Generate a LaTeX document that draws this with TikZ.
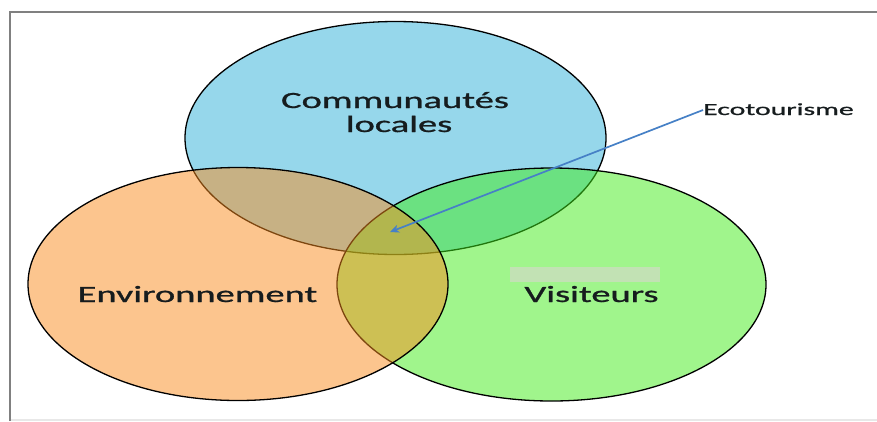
\documentclass[tikz,border=0pt]{standalone}
\usepackage{fontspec}
\usepackage{graphicx}
\setmainfont{Carlito}
\newfontfamily\labelfont{Carlito}[UprightFeatures={FakeBold=0.8}]
\usetikzlibrary{shapes.geometric,arrows.meta}

\definecolor{basblue}{RGB}{45,175,215}
\definecolor{basgreen}{RGB}{65,235,25}
\definecolor{basorange}{RGB}{250,140,30}
\definecolor{arrowblue}{RGB}{70,128,198}
\definecolor{framegray}{RGB}{128,128,128}
\definecolor{smudge}{RGB}{194,226,180}
\definecolor{inktext}{RGB}{22,28,30}

\tikzset{
  setbox/.style={ellipse, draw=black, line width=1.3pt, fill opacity=0.5,
    minimum width=#1, minimum height=233pt, inner sep=0pt},
  label big/.style={anchor=base, inner sep=0pt, text=inktext,
    font=\labelfont\fontsize{23.3}{24}\selectfont},
  label small/.style={anchor=base west, inner sep=0pt, text=inktext,
    font=\labelfont\fontsize{17}{18}\selectfont},
  pointer/.style={draw=arrowblue, line width=1.7pt,
    -{Stealth[length=9pt,width=8pt,inset=2.5pt]}}
}
\newcommand{\wide}[2]{\scalebox{#1}[1]{#2}}

\begin{document}
\begin{tikzpicture}[x=1pt,y=-1pt]
\useasboundingbox (0,0) rectangle (877,421);

% frame of the slide
\fill[black!9] (10,418.5) rectangle (877,421);
\draw[framegray, line width=1.6pt] (10,421) -- (10,12) -- (877,12);

% the three sets
\node[setbox=421pt, fill=basblue]   (comm) at (395.5,138) {};
\node[setbox=429pt, fill=basgreen]  (visi) at (551.5,284.5) {};
\node[setbox=420pt, fill=basorange] (envi) at (238,284) {};

% faded patch above the visitors label
\node[fill=smudge, inner sep=0pt, minimum width=150pt, minimum height=15pt] (patch) at (585,274.5) {};

% labels
\node[label big] (tcomm) at (395,108) {\wide{1.65}{Communautés}};
\node[label big] (tloc)  at (399,132) {\wide{1.65}{locales}};
\node[label big] (tenv)  at (197.5,302) {\wide{1.65}{Environnement}};
\node[label big] (tvis)  at (591.5,302) {\wide{1.65}{Visiteurs}};
\node[label small] (eco) at (703,115) {\wide{1.75}{Ecotourisme}};

% pointer into the common region
\coordinate (core) at (390,232);
\draw[pointer] (eco.west |- 0,110) -- (core);
\end{tikzpicture}
\end{document}
